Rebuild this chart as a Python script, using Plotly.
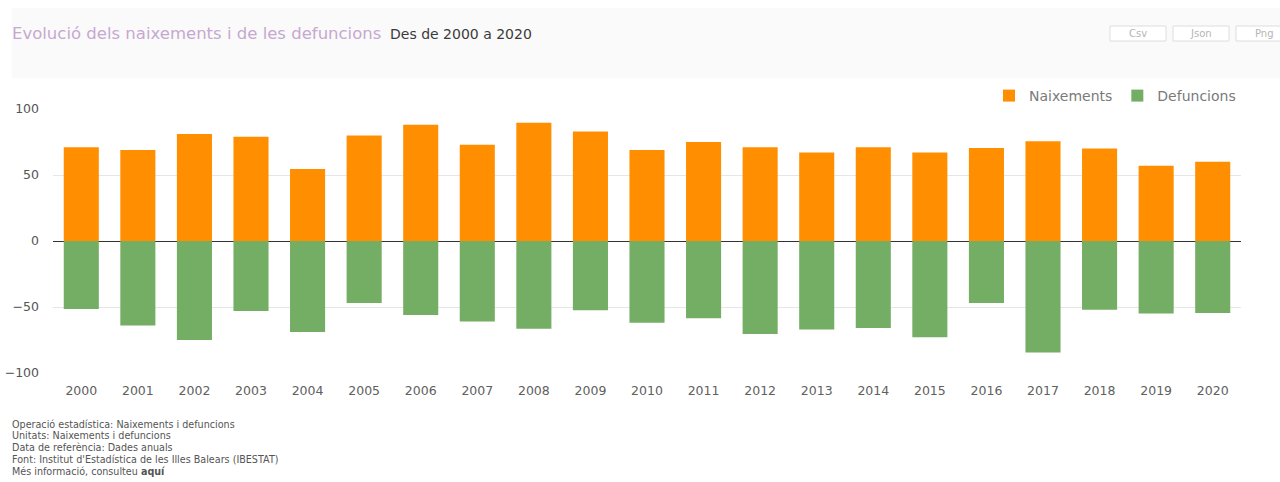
import plotly.graph_objects as go

years = [str(y) for y in range(2000, 2021)]
naixements = [71, 69, 81, 79, 54.5, 80, 88, 73, 89.5, 83, 69, 75, 71, 67, 71, 67, 70.5, 75.5, 70, 57, 60]
defuncions = [-51.5, -64, -75, -53, -69, -47, -56, -61, -66.5, -52.5, -62, -58.5, -70.5, -67, -66, -73, -47, -84.5, -52, -55, -54.5]
yticks = [-100, -50, 0, 50, 100]

title_text = "Evolució dels naixements i de les defuncions"
subtitle_text = "Des de 2000 a 2020"
buttons = ["Csv", "Json", "Png"]
footer_lines = [
    "Operació estadística: Naixements i defuncions",
    "Unitats: Naixements i defuncions",
    "Data de referència: Dades anuals",
    "Font: Institut d'Estadística de les Illes Balears (IBESTAT)",
    "Més informació, consulteu <b>aquí</b>",
]

W, H = 1280, 482
L, R, T, B = 53, 39, 109, 109
pw, ph = W - L - R, H - T - B


def px(x):
    return (x - L) / pw


def py(y):
    return (H - B - y) / ph


fig = go.Figure()
fig.add_trace(go.Bar(x=years, y=naixements, name="Naixements", marker=dict(color="#ff8f00", line=dict(width=0))))
fig.add_trace(go.Bar(x=years, y=defuncions, name="Defuncions", marker=dict(color="#74ad64", line=dict(width=0))))

shapes = [
    dict(type="rect", xref="paper", yref="paper", x0=px(12), x1=px(1295), y0=py(78), y1=py(8),
         fillcolor="#fafafa", line=dict(width=0), layer="below"),
]
annotations = [
    dict(text=title_text, xref="paper", yref="paper", x=px(10), y=py(33), xanchor="left", yanchor="middle",
         showarrow=False, font=dict(family="DejaVu Sans", size=16.5, color="#c6a8d0")),
    dict(text=subtitle_text, xref="paper", yref="paper", x=px(388), y=py(34), xanchor="left", yanchor="middle",
         showarrow=False, font=dict(family="DejaVu Sans", size=14, color="#3a3a3a")),
]
bx = [1110, 1173, 1236]
for b, x0 in zip(buttons, bx):
    shapes.append(dict(type="rect", xref="paper", yref="paper", x0=px(x0), x1=px(x0 + 56), y0=py(41), y1=py(26),
                       fillcolor="#ffffff", line=dict(color="#dedede", width=1)))
    annotations.append(dict(text=b, xref="paper", yref="paper", x=px(x0 + 28), y=py(33.5), xanchor="center",
                            yanchor="middle", showarrow=False,
                            font=dict(family="DejaVu Sans", size=10, color="#b5b5b5")))
for i, line in enumerate(footer_lines):
    annotations.append(dict(text=line, xref="paper", yref="paper", x=px(10), y=py(424 + i * 11.8), xanchor="left",
                            yanchor="middle", showarrow=False,
                            font=dict(family="DejaVu Sans", size=9.6, color="#555")))

fig.update_layout(
    width=W, height=H,
    margin=dict(l=L, r=R, t=T, b=B, autoexpand=False),
    paper_bgcolor="#ffffff", plot_bgcolor="#ffffff",
    barmode="relative", bargap=0.38,
    showlegend=True,
    legend=dict(orientation="h", x=1, xanchor="right", y=py(96), yanchor="middle",
                font=dict(family="DejaVu Sans", size=14, color="#7a7a7a"), traceorder="normal"),
    xaxis=dict(type="category", showgrid=False, showline=False, ticks="", ticklabelstandoff=8,
               tickfont=dict(family="DejaVu Sans", size=12.5, color="#606060")),
    yaxis=dict(range=[-100, 100], tickvals=yticks, showgrid=True, gridcolor="#e6e6e6", gridwidth=1,
               zeroline=True, zerolinecolor="#333", zerolinewidth=1, ticks="", ticklabelstandoff=13,
               tickfont=dict(family="DejaVu Sans", size=12.5, color="#555")),
    shapes=shapes, annotations=annotations,
    font=dict(family="DejaVu Sans"),
)

fig.write_html("out.html", config={"displayModeBar": False},
               post_script="document.body.style.margin='0';document.body.style.overflow='hidden';")
